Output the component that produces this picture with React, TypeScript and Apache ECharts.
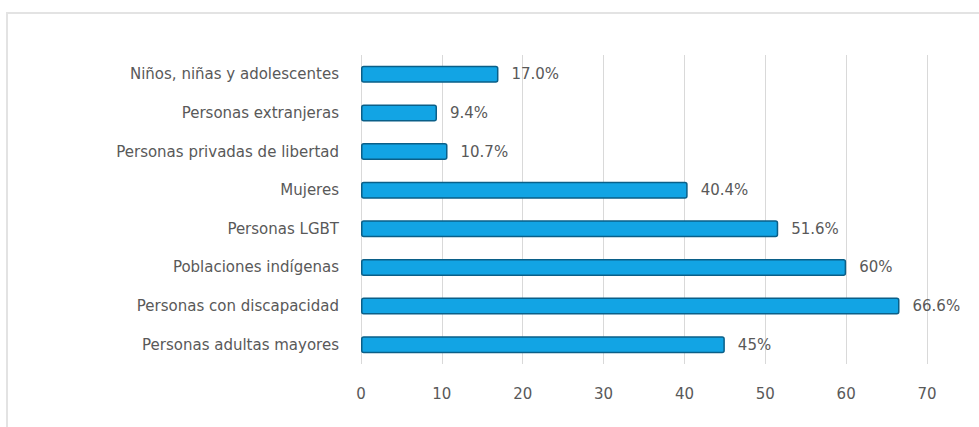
import React, { useEffect, useRef } from "react";
import * as echarts from "echarts";

const categories = [
  "Niños, niñas y adolescentes",
  "Personas extranjeras",
  "Personas privadas de libertad",
  "Mujeres",
  "Personas LGBT",
  "Poblaciones indígenas",
  "Personas con discapacidad",
  "Personas adultas mayores",
];
const values = [17.0, 9.4, 10.7, 40.4, 51.6, 60, 66.6, 45];
const valueLabels = ["17.0%", "9.4%", "10.7%", "40.4%", "51.6%", "60%", "66.6%", "45%"];

export default function App() {
  const ref = useRef<HTMLDivElement>(null);
  useEffect(() => {
    if (!ref.current) return;
    const chart = echarts.init(ref.current, null, { renderer: "svg" });
    chart.setOption({
      animation: false,
      backgroundColor: "#ffffff",
      textStyle: { fontFamily: "DejaVu Sans" },
      graphic: [
        {
          type: "rect",
          shape: { x: 7, y: 13, width: 1000, height: 500 },
          style: { fill: "none", stroke: "#e3e3e3", lineWidth: 2 },
          silent: true,
        },
      ],
      grid: { left: 361, right: 52, top: 55, bottom: 63, containLabel: false },
      xAxis: {
        type: "value",
        min: 0,
        max: 70,
        interval: 10,
        axisLine: { show: false },
        axisTick: { show: false },
        axisLabel: { color: "#595959", fontSize: 15, margin: 22 },
        splitLine: { show: true, lineStyle: { color: "#d9d9d9", width: 1 } },
      },
      yAxis: {
        type: "category",
        data: categories,
        inverse: true,
        axisLine: { show: false },
        axisTick: { show: false },
        axisLabel: { color: "#595959", fontSize: 15, margin: 22 },
      },
      series: [
        {
          type: "bar",
          data: values.map((v, i) => ({ value: v, label: { formatter: valueLabels[i] } })),
          barWidth: 17,
          itemStyle: {
            color: "#12a4e4",
            borderColor: "#0a5f88",
            borderWidth: 1.5,
            borderRadius: 2,
          },
          label: {
            show: true,
            position: "right",
            distance: 13,
            color: "#595959",
            fontSize: 15,
          },
        },
      ],
    });
    return () => chart.dispose();
  }, []);
  return <div ref={ref} style={{ width: 979, height: 427, position: "absolute", left: 0, top: 0 }} />;
}
